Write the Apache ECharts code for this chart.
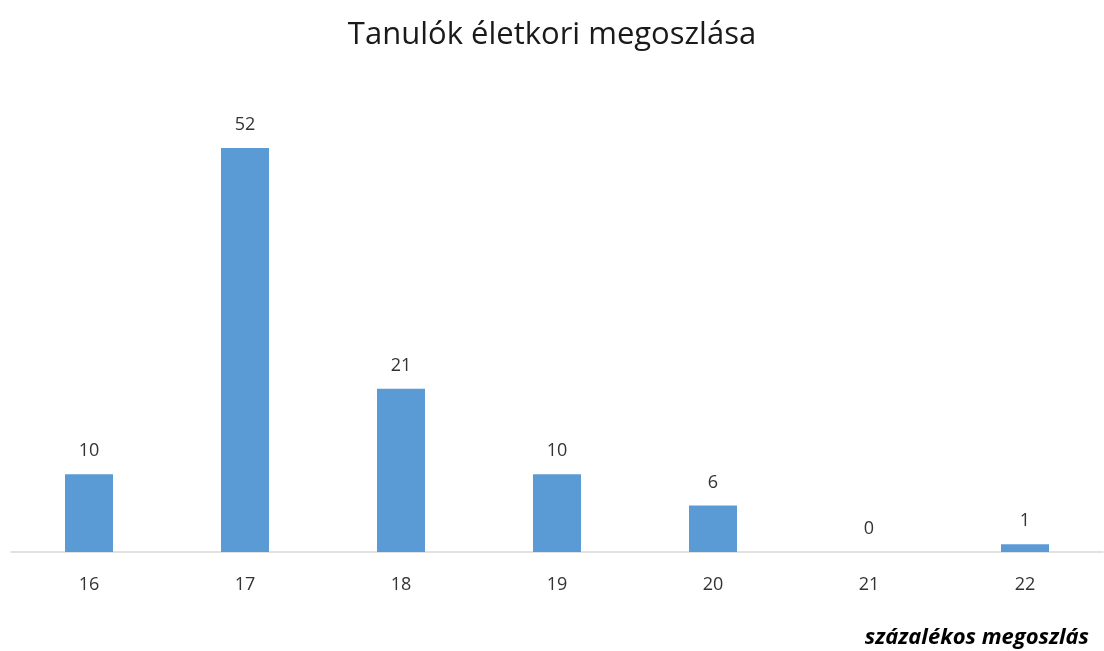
<!DOCTYPE html>
<html lang="hu" style="height: 100%">
<head>
  <meta charset="utf-8">
</head>
<body style="height: 100%; margin: 0">
  <div id="container" style="width: 1104px; height: 651px"></div>
  <script type="text/javascript" src="https://fastly.jsdelivr.net/npm/echarts@6/dist/echarts.min.js"></script>
  <script type="text/javascript">
    // adatok
    var ages = ['16', '17', '18', '19', '20', '21', '22'];
    var counts = [10, 52, 21, 10, 6, 0, 1];

    var dom = document.getElementById('container');
    var myChart = echarts.init(dom, null, { renderer: 'canvas' });
    var font = '"Open Sans", "Noto Sans", sans-serif';

    var option = {
      backgroundColor: '#ffffff',
      title: [
        {
          text: 'Tanulók életkori megoszlása',
          left: 'center',
          top: 15,
          textStyle: { fontFamily: font, fontSize: 31, fontWeight: 'normal', color: '#1a1a1a' }
        },
        {
          text: 'százalékos megoszlás',
          right: 10,
          top: 622,
          textStyle: { fontFamily: font, fontSize: 22, fontWeight: 'bold', fontStyle: 'italic', color: '#000000' }
        }
      ],
      grid: { left: 11, right: 1, top: 148, bottom: 99 },
      xAxis: {
        type: 'category',
        data: ages,
        axisLine: { lineStyle: { color: '#d9d9d9', width: 1.5 } },
        axisTick: { show: false },
        axisLabel: { fontFamily: font, fontSize: 18, color: '#333333', margin: 24 }
      },
      yAxis: {
        type: 'value',
        min: 0,
        max: 52,
        show: false,
        splitLine: { show: false }
      },
      series: [
        {
          type: 'bar',
          data: counts,
          barWidth: 48,
          itemStyle: { color: '#5b9bd5' },
          label: {
            show: true,
            position: 'top',
            distance: 14,
            fontFamily: font,
            fontSize: 18,
            color: '#333333'
          }
        }
      ]
    };

    myChart.setOption(option);
    window.addEventListener('resize', myChart.resize);
  </script>
</body>
</html>
